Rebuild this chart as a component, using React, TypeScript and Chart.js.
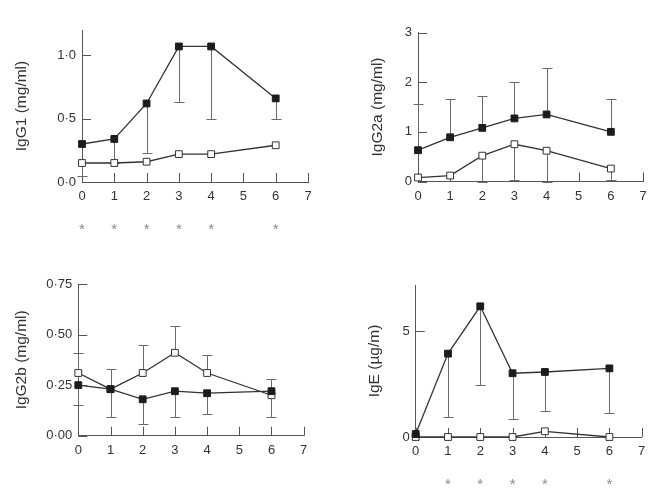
import React, { useEffect, useRef } from "react";
import { Chart, registerables } from "chart.js";

Chart.register(...registerables);

const FONT = "'Liberation Sans', Arial, Helvetica, sans-serif";

// ---------- data ----------
const weeks = [0, 1, 2, 3, 4, 6];
const xTickValues = [0, 1, 2, 3, 4, 5, 6, 7];

// IgG1 (mg/ml)
const igg1Filled = [0.30, 0.34, 0.62, 1.07, 1.07, 0.66];
const igg1FilledLow = [null, 0.15, 0.23, 0.63, 0.50, 0.50];
const igg1Open = [0.15, 0.15, 0.16, 0.22, 0.22, 0.29];
const igg1OpenLow = [0.05, null, null, null, null, null];
const igg1Stars = [0, 1, 2, 3, 4, 6];
const igg1Ticks = [0, 0.5, 1.0];
const igg1TickLabels = ["0·0", "0·5", "1·0"];

// IgG2a (mg/ml)
const igg2aFilled = [0.63, 0.89, 1.08, 1.27, 1.35, 1.0];
const igg2aFilledHigh = [1.56, 1.67, 1.72, 2.0, 2.28, 1.67];
const igg2aOpen = [0.08, 0.12, 0.52, 0.75, 0.62, 0.26];
const igg2aOpenLow = [null, null, 0.0, 0.04, 0.0, 0.04];
const igg2aStars: number[] = [];
const igg2aTicks = [0, 1, 2, 3];
const igg2aTickLabels = ["0", "1", "2", "3"];

// IgG2b (mg/ml)
const igg2bFilled = [0.25, 0.23, 0.18, 0.22, 0.21, 0.22];
const igg2bFilledLow = [0.15, 0.09, 0.06, 0.09, 0.105, 0.09];
const igg2bOpen = [0.31, 0.23, 0.31, 0.41, 0.31, 0.20];
const igg2bOpenHigh = [0.41, 0.33, 0.45, 0.54, 0.40, 0.28];
const igg2bStars: number[] = [];
const igg2bTicks = [0, 0.25, 0.5, 0.75];
const igg2bTickLabels = ["0·00", "0·25", "0·50", "0·75"];

// IgE (µg/ml)
const igeFilled = [0.14, 3.95, 6.19, 3.02, 3.08, 3.25];
const igeFilledLow = [null, 0.96, 2.46, 0.84, 1.23, 1.12];
const igeOpen = [0, 0, 0, 0, 0.27, 0];
const igeStars = [1, 2, 3, 4, 6];
const igeTicks = [0, 5];
const igeTickLabels = ["0", "5"];

type Arr = (number | null)[];

interface PanelCfg {
  title: string;
  yMax: number;
  yTicks: number[];
  yTickLabels: string[];
  filled: number[];
  filledHi?: Arr;
  filledLo?: Arr;
  open: number[];
  openHi?: Arr;
  openLo?: Arr;
  stars: number[];
  // layout
  left: number;
  top: number;
  width: number;
  height: number;
  yAxisW: number;
  xAxisH: number;
  padTop: number;
  padRight: number;
  titlePad: number;
}

const panels: PanelCfg[] = [
  {
    title: "IgG1 (mg/ml)", yMax: 1.2, yTicks: igg1Ticks, yTickLabels: igg1TickLabels,
    filled: igg1Filled, filledLo: igg1FilledLow, open: igg1Open, openLo: igg1OpenLow, stars: igg1Stars,
    left: 0, top: 0, width: 325, height: 240, yAxisW: 82, xAxisH: 58, padTop: 30, padRight: 17, titlePad: 12,
  },
  {
    title: "IgG2a (mg/ml)", yMax: 3, yTicks: igg2aTicks, yTickLabels: igg2aTickLabels,
    filled: igg2aFilled, filledHi: igg2aFilledHigh, open: igg2aOpen, openLo: igg2aOpenLow, stars: igg2aStars,
    left: 325, top: 0, width: 325, height: 240, yAxisW: 93, xAxisH: 58.5, padTop: 32.5, padRight: 7, titlePad: 43.5,
  },
  {
    title: "IgG2b (mg/ml)", yMax: 0.75, yTicks: igg2bTicks, yTickLabels: igg2bTickLabels,
    filled: igg2bFilled, filledLo: igg2bFilledLow, open: igg2bOpen, openHi: igg2bOpenHigh, stars: igg2bStars,
    left: 0, top: 244, width: 325, height: 244, yAxisW: 78.3, xAxisH: 52.3, padTop: 40, padRight: 21.3, titlePad: 12.3,
  },
  {
    title: "IgE (µg/m)", yMax: 7.2, yTicks: igeTicks, yTickLabels: igeTickLabels,
    filled: igeFilled, filledLo: igeFilledLow, open: igeOpen, stars: igeStars,
    left: 325, top: 244, width: 325, height: 244, yAxisW: 90.7, xAxisH: 51, padTop: 41, padRight: 8.3, titlePad: 40,
  },
];

// ---------- plugins ----------
const errorBarPlugin = {
  id: "errorBars",
  beforeDatasetsDraw(chart: any) {
    const ctx = chart.ctx;
    const yScale = chart.scales.y;
    ctx.save();
    ctx.strokeStyle = "#6a6a6a";
    ctx.lineWidth = 1;
    chart.data.datasets.forEach((ds: any, di: number) => {
      const meta = chart.getDatasetMeta(di);
      const draw = (arr?: Arr) => {
        if (!arr) return;
        arr.forEach((v, i) => {
          if (v === null || v === undefined) return;
          const pt = meta.data[i];
          if (!pt) return;
          const x = Math.round(pt.x) + 0.5;
          const y2 = Math.round(yScale.getPixelForValue(v)) + 0.5;
          ctx.beginPath();
          ctx.moveTo(x, pt.y);
          ctx.lineTo(x, y2);
          ctx.moveTo(x - 5, y2);
          ctx.lineTo(x + 5, y2);
          ctx.stroke();
        });
      };
      draw(ds.errHi);
      draw(ds.errLo);
    });
    ctx.restore();
  },
};

const inwardTicksPlugin = {
  id: "inwardTicks",
  beforeDatasetsDraw(chart: any) {
    const ctx = chart.ctx;
    const { x, y } = chart.scales;
    const area = chart.chartArea;
    ctx.save();
    ctx.strokeStyle = "#555";
    ctx.lineWidth = 1;
    ctx.beginPath();
    x.ticks.forEach((t: any) => {
      const px = Math.round(x.getPixelForValue(t.value)) + 0.5;
      ctx.moveTo(px, area.bottom);
      ctx.lineTo(px, area.bottom - 9);
    });
    y.ticks.forEach((t: any) => {
      const py = Math.round(y.getPixelForValue(t.value)) + 0.5;
      ctx.moveTo(area.left, py);
      ctx.lineTo(area.left + 9, py);
    });
    ctx.stroke();
    ctx.restore();
  },
};

const starsPlugin = {
  id: "stars",
  afterDraw(chart: any, _args: any, opts: any) {
    const stars: number[] = opts.stars || [];
    if (!stars.length) return;
    const ctx = chart.ctx;
    const x = chart.scales.x;
    const base = chart.chartArea.bottom + 44;
    ctx.save();
    ctx.fillStyle = "#8a8a8a";
    ctx.font = `15px ${FONT}`;
    ctx.textAlign = "center";
    ctx.textBaseline = "alphabetic";
    stars.forEach((v) => {
      ctx.fillText("*", x.getPixelForValue(v), base + 8);
    });
    ctx.restore();
  },
};

function Panel({ cfg }: { cfg: PanelCfg }) {
  const ref = useRef<HTMLCanvasElement>(null);
  useEffect(() => {
    const chart = new Chart(ref.current as HTMLCanvasElement, {
      type: "line",
      data: {
        datasets: [
          {
            data: weeks.map((w, i) => ({ x: w, y: cfg.filled[i] })),
            borderColor: "#333",
            borderWidth: 1.3,
            pointStyle: "rect",
            pointRadius: 4.8,
            pointBackgroundColor: "#1c1c1c",
            pointBorderColor: "#1c1c1c",
            pointBorderWidth: 1,
            tension: 0,
            clip: false,
            errHi: cfg.filledHi,
            errLo: cfg.filledLo,
          } as any,
          {
            data: weeks.map((w, i) => ({ x: w, y: cfg.open[i] })),
            borderColor: "#333",
            borderWidth: 1.3,
            pointStyle: "rect",
            pointRadius: 4.8,
            pointBackgroundColor: "#ffffff",
            pointBorderColor: "#333",
            pointBorderWidth: 1,
            tension: 0,
            clip: false,
            errHi: cfg.openHi,
            errLo: cfg.openLo,
          } as any,
        ],
      },
      options: {
        animation: false,
        responsive: false,
        maintainAspectRatio: false,
        layout: { padding: { top: cfg.padTop, right: cfg.padRight, left: 0, bottom: 0 } },
        plugins: {
          legend: { display: false },
          tooltip: { enabled: false },
          stars: { stars: cfg.stars },
        } as any,
        scales: {
          x: {
            type: "linear",
            min: 0,
            max: 7,
            afterBuildTicks: (s: any) => {
              s.ticks = xTickValues.map((v) => ({ value: v }));
            },
            afterFit: (s: any) => {
              s.height = cfg.xAxisH;
              s.paddingLeft = 0;
              s.paddingRight = 0;
            },
            grid: { display: false, drawTicks: false },
            border: { display: true, color: "#555", width: 1 },
            ticks: {
              padding: 7,
              color: "#333",
              autoSkip: false,
              maxRotation: 0,
              font: { family: FONT, size: 13 },
              callback: (v: any) => String(v),
            },
          },
          y: {
            type: "linear",
            min: 0,
            max: cfg.yMax,
            afterBuildTicks: (s: any) => {
              s.ticks = cfg.yTicks.map((v) => ({ value: v }));
            },
            afterFit: (s: any) => {
              s.width = cfg.yAxisW;
              s.paddingTop = 0;
              s.paddingBottom = 0;
            },
            grid: { display: false, drawTicks: false },
            border: { display: true, color: "#555", width: 1 },
            ticks: {
              padding: 6,
              color: "#333",
              autoSkip: false,
              font: { family: FONT, size: 13 },
              callback: (_v: any, i: number) => cfg.yTickLabels[i],
            },
            title: {
              display: true,
              text: cfg.title,
              color: "#333",
              font: { family: FONT, size: 15.5 },
              padding: { top: cfg.titlePad, bottom: 0 },
            },
          },
        },
      } as any,
      plugins: [inwardTicksPlugin, errorBarPlugin, starsPlugin],
    });
    return () => chart.destroy();
  }, [cfg]);
  return (
    <canvas
      ref={ref}
      width={cfg.width}
      height={cfg.height}
      style={{
        position: "absolute",
        left: cfg.left,
        top: cfg.top,
        width: cfg.width,
        height: cfg.height,
      }}
    />
  );
}

export default function App() {
  return (
    <div
      style={{
        position: "absolute",
        left: 0,
        top: 0,
        width: 650,
        height: 488,
        background: "#fff",
        overflow: "hidden",
      }}
    >
      {panels.map((p, i) => (
        <Panel key={i} cfg={p} />
      ))}
    </div>
  );
}
